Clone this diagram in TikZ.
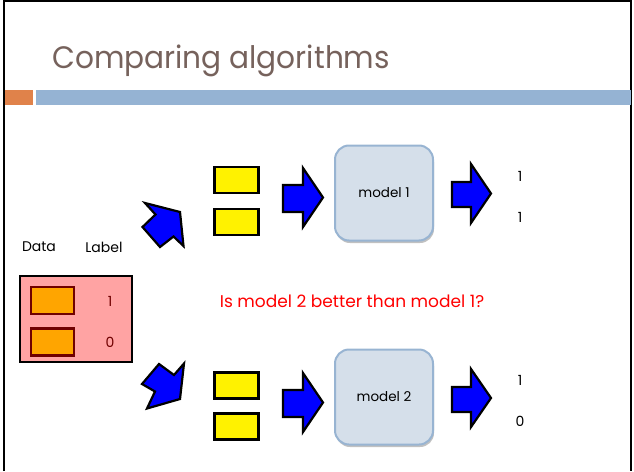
\documentclass[tikz,border=0pt]{standalone}
\usepackage{fontspec}
\setmainfont{Poppins}
\newfontfamily\titlefont[FakeStretch=0.955]{Poppins}
\usetikzlibrary{shadows}
\definecolor{titlecol}{HTML}{76625C}
\definecolor{orangebar}{HTML}{E0824A}
\definecolor{bluebar}{HTML}{95B3D3}
\definecolor{pinkfill}{HTML}{FFA3A3}
\definecolor{orangefill}{HTML}{FFA500}
\definecolor{maroon}{HTML}{700000}
\definecolor{modelfill}{HTML}{D5DFEA}
\definecolor{modelborder}{HTML}{98B4D2}
\begin{document}
\begin{tikzpicture}[x=1pt,y=-1pt,
  blk/.style={draw=black,line width=2.2pt,fill=blue,line join=miter},
  ybox/.style={draw=black,line width=2.2pt,fill=yellow,minimum width=44pt,minimum height=26pt,inner sep=0pt},
  obox/.style={draw=maroon,line width=2.2pt,fill=orangefill,minimum width=43pt,minimum height=27pt,inner sep=0pt},
  model/.style={draw=modelborder,line width=2pt,fill=modelfill,rounded corners=14pt,minimum width=98pt,minimum height=95pt,inner sep=0pt,
    drop shadow={shadow xshift=1pt,shadow yshift=-2.5pt,opacity=0.35,fill=black!70},font=\fontsize{13.5}{15}\selectfont},
  lbl/.style={font=\fontsize{14}{16}\selectfont,inner sep=0pt}]
\useasboundingbox (0,0) rectangle (634,471);
% frame
\draw[line width=1.5pt] (4,471) -- (4,1) -- (631,1) -- (631,471);
% title and bars
\node[anchor=base west,text=titlecol,inner sep=0pt,font=\titlefont\fontsize{31}{34}\selectfont] (title) at (52,68) {Comparing algorithms};
\fill[orangebar] (5,90) rectangle (33,105);
\fill[bluebar] (36,90) rectangle (631,105);
% data block
\node[lbl] (data) at (39,247) {Data};
\node[lbl] (label) at (104,247) {Label};
\node[draw=black,line width=2.2pt,fill=pinkfill,minimum width=112pt,minimum height=86pt,inner sep=0pt] (pink) at (76,319) {};
\node[obox] (d1) at (52.5,300.5) {};
\node[obox] (d2) at (52.5,342) {};
\node[lbl,text=maroon] (l1) at (110,301) {1};
\node[lbl,text=maroon] (l2) at (110,342) {0};
% diagonal arrows
\draw[blk] (145,203) -- (180,212) -- (183.5,246) -- (173.5,236.5) -- (160,247) -- (142.5,227) -- (155.5,214.5) -- cycle;
\draw[blk] (142,384) -- (159,364) -- (174,375) -- (184,363.5) -- (180,399) -- (147,408.5) -- (155,391.5) -- cycle;
% yellow boxes
\node[ybox] (y1) at (236.5,180) {};
\node[ybox] (y2) at (236.5,222) {};
\node[ybox] (y3) at (236.5,385.5) {};
\node[ybox] (y4) at (236.5,426.5) {};
% right arrows
\draw[blk] (283,185) -- (303,185) -- (303,168) -- (323,197.5) -- (303,227) -- (303,212) -- (283,212) -- cycle;
\draw[blk] (452,182) -- (471,182) -- (471,164) -- (491,193.5) -- (471,223) -- (471,207) -- (452,207) -- cycle;
\draw[blk] (283,390) -- (303,390) -- (303,373) -- (323,402.5) -- (303,432) -- (303,417) -- (283,417) -- cycle;
\draw[blk] (452,387) -- (471,387) -- (471,369) -- (491,398) -- (471,427) -- (471,412) -- (452,412) -- cycle;
% models
\node[model] (m1) at (384,193) {model 1};
\node[model] (m2) at (384,397) {model 2};
% outputs
\node[lbl] (o1) at (520,176) {1};
\node[lbl] (o2) at (520,217) {1};
\node[lbl] (o3) at (520,380) {1};
\node[lbl] (o4) at (520,421) {0};
% question
\node[text=red,inner sep=0pt,font=\fontsize{17}{19}\selectfont] (q) at (352,301) {Is model 2 better than model 1?};
\end{tikzpicture}
\end{document}
